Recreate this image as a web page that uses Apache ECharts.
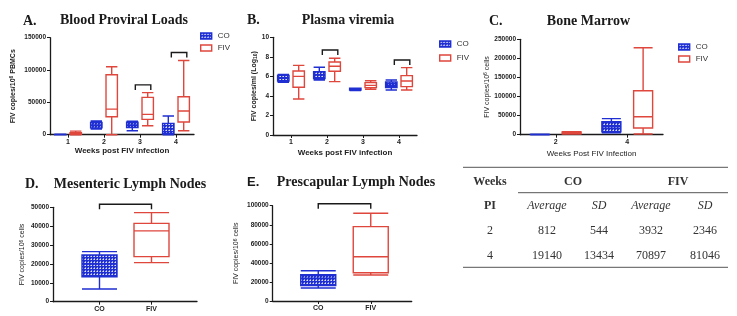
<!DOCTYPE html>
<html lang="en">
<head>
<meta charset="UTF-8">
<title>FIV proviral loads</title>
<script src="https://cdn.jsdelivr.net/npm/echarts@6.0.0/dist/echarts.min.js"></script>
<style>
  *{margin:0;padding:0;}
  body{background:#fff;}
  #main{width:737px;height:316px;}
</style>
</head>
<body>
<div id="main"></div>
<script type="text/javascript">
// box values are [min, Q1, median, Q3, max]
// A. blood proviral loads
var weeksA = ['1', '2', '3', '4'];
var coA = [[0, 0, 200, 500, 800], [8800, 10500, 15000, 19000, 21200], [6200, 11000, 15000, 19200, 21000], [0, 1500, 9000, 17500, 29000]];
var fivA = [[0, 500, 1500, 3000, 5500], [0, 27800, 39600, 92700, 105000], [13900, 23700, 31400, 57700, 65000], [6000, 19600, 36600, 58700, 114800]];
var sigWeeksA = ['3', '4'];
var sigLevelA = [77000, 127000];

// B. plasma viremia (log10)
var weeksB = ['1', '2', '3', '4'];
var coB = [[5.4, 5.53, 5.8, 6.1, 6.2], [5.63, 5.77, 6.14, 6.48, 6.93], [4.55, 4.6, 4.68, 4.78, 4.8], [4.61, 4.85, 5.08, 5.43, 5.63]];
var fivB = [[3.69, 4.88, 6.0, 6.55, 7.13], [5.46, 6.52, 7.03, 7.47, 7.85], [4.68, 4.85, 5.08, 5.36, 5.56], [4.61, 4.95, 5.53, 6.08, 6.9]];
var sigWeeksB = ['2', '4'];
var sigLevelB = [8.7, 7.68];

// C. bone marrow
var weeksC = ['2', '4'];
var coC = [[0, 200, 500, 900, 1500], [5000, 7900, 21000, 34000, 42000]];
var fivC = [[1500, 2500, 4500, 7000, 8000], [1700, 17500, 47000, 115000, 228000]];

// D. mesenteric lymph nodes, E. prescapular lymph nodes
var groupsDE = ['CO', 'FIV'];
var coD = [6700, 13200, 20000, 24700, 26500];
var fivD = [20700, 23900, 37500, 41500, 47200];
var sigLevelD = 51600;
var coE = [13600, 16100, 23800, 27600, 31800];
var fivE = [27300, 29700, 46500, 78000, 92000];
var sigLevelE = 102100;

// table: bone marrow averages / SD
var tableWeeks = ['2', '4'];
var tableCoAvg = [812, 19140];
var tableCoSD = [544, 13434];
var tableFivAvg = [3932, 70897];
var tableFivSD = [2346, 81046];

var BLUE = '#1f2fd2';
var RED = '#e0473c';
var INK = '#1a1a1a';
var SANS = '"Liberation Sans", Arial, sans-serif';
var SERIF = '"Liberation Serif", "DejaVu Serif", serif';

function makePattern() {
    var c = document.createElement('canvas');
    c.width = 3; c.height = 3;
    var g = c.getContext('2d');
    g.fillStyle = BLUE;
    g.fillRect(0, 0, 3, 3);
    g.fillStyle = '#dfe3ff';
    g.fillRect(1, 1, 1, 1);
    g.fillStyle = '#8c96ea';
    g.fillRect(0, 1, 1, 1);
    g.fillRect(1, 0, 1, 1);
    return c;
}
var coFill = {image: makePattern(), repeat: 'repeat'};
var coStyle = {color: coFill, borderColor: BLUE, borderWidth: 1.4};
var fivStyle = {color: '#ffffff', borderColor: RED, borderWidth: 1.4};

function yAxisOf(gi, max, interval, name, nameGap, offset) {
    return {
        type: 'value', gridIndex: gi, min: 0, max: max, interval: interval, offset: offset || 0,
        name: name, nameLocation: 'middle', nameGap: nameGap, nameRotate: 90,
        nameTextStyle: {
            fontSize: 7, fontWeight: 'bold', color: '#222', fontFamily: SANS,
            rich: {
                t: {fontSize: 7, fontWeight: 'bold', color: '#222', fontFamily: SANS},
                sup: {fontSize: 5, fontWeight: 'bold', color: '#222', fontFamily: SANS, verticalAlign: 'top'},
                sub: {fontSize: 5, fontWeight: 'bold', color: '#222', fontFamily: SANS, verticalAlign: 'bottom'}
            }
        },
        axisLine: {show: true, lineStyle: {color: INK, width: 1.3}},
        axisTick: {show: true, length: 3, lineStyle: {color: INK, width: 1}},
        axisLabel: {fontSize: 6.5, fontWeight: 'bold', color: '#222', fontFamily: SANS, margin: 4,
            formatter: function (v) { return String(v); }},
        splitLine: {show: false}
    };
}

function xAxisOf(gi, data, name, nameGap, nameWeight, showLine) {
    return {
        type: 'category', gridIndex: gi, data: data, boundaryGap: true,
        name: name, nameLocation: 'middle', nameGap: nameGap,
        nameTextStyle: {fontSize: 8, fontWeight: nameWeight, color: '#222', fontFamily: SANS},
        axisLine: {show: showLine, lineStyle: {color: INK, width: 1.3}},
        axisTick: {show: true, alignWithLabel: true, length: 3, lineStyle: {color: INK, width: 1}},
        axisLabel: {fontSize: 7, fontWeight: 'bold', color: '#222', fontFamily: SANS, margin: 4},
        splitLine: {show: false}
    };
}

function boxSeries(name, gi, data, style) {
    return {
        type: 'boxplot', name: name, xAxisIndex: gi, yAxisIndex: gi, data: data,
        itemStyle: style, silent: true, emphasis: {disabled: true}
    };
}

// bracket over a category (A, B) or across the two groups (D, E)
function bracketSeries(gi, data, span) {
    return {
        type: 'custom', xAxisIndex: gi, yAxisIndex: gi, data: data, silent: true, z: 5, clip: false,
        renderItem: function (params, api) {
            var lvl = api.value(1);
            var x0, x1, y;
            if (span) {
                var a = api.coord([0, lvl]), b = api.coord([1, lvl]);
                x0 = a[0]; x1 = b[0]; y = a[1];
            } else {
                var p = api.coord([api.value(0), lvl]);
                var band = api.size([1, 0])[0];
                x0 = p[0] - band * 0.13; x1 = p[0] + band * 0.3; y = p[1];
            }
            return {
                type: 'polyline',
                shape: {points: [[x0, y + 5], [x0, y], [x1, y], [x1, y + 5]]},
                style: {stroke: INK, lineWidth: 1.4, fill: null}
            };
        }
    };
}

function legendAt(left, top, gap) {
    return {
        orient: 'vertical', left: left, top: top, itemGap: gap, itemWidth: 11, itemHeight: 6,
        icon: 'rect', selectedMode: false, padding: 0,
        textStyle: {fontSize: 8, color: '#333', fontFamily: SANS, padding: [0, 0, 0, 1]},
        data: [{name: 'CO', itemStyle: coStyle}, {name: 'FIV', itemStyle: fivStyle}]
    };
}

var grids = [
    {left: 50, top: 37.7, width: 144, height: 97},      // A
    {left: 273, top: 37.3, width: 144, height: 97.7},   // B
    {left: 520, top: 39.3, width: 143, height: 95.4},   // C
    {left: 73.5, top: 207.3, width: 104, height: 94.4}, // D
    {left: 292, top: 205.7, width: 105, height: 95.3},  // E
    {left: 53, top: 207.3, width: 144, height: 94.4},   // D axis line
    {left: 272.7, top: 205.7, width: 139, height: 95.3} // E axis line
];
grids.forEach(function (g) { g.outerBoundsMode = 'none'; g.containLabel = false; });

var xAxes = [
    xAxisOf(0, weeksA, 'Weeks post FIV infection', 12.5, 'bold', true),
    xAxisOf(1, weeksB, 'Weeks post FIV infection', 14, 'bold', true),
    xAxisOf(2, weeksC, 'Weeks Post FIV Infection', 15, 'normal', true),
    xAxisOf(3, groupsDE, '', 0, 'bold', false),
    xAxisOf(4, groupsDE, '', 0, 'bold', false),
    {type: 'value', gridIndex: 5, min: 0, max: 1, axisLine: {show: true, lineStyle: {color: INK, width: 1.3}},
        axisTick: {show: false}, axisLabel: {show: false}, splitLine: {show: false}},
    {type: 'value', gridIndex: 6, min: 0, max: 1, axisLine: {show: true, lineStyle: {color: INK, width: 1.3}},
        axisTick: {show: false}, axisLabel: {show: false}, splitLine: {show: false}}
];

var yAxes = [
    yAxisOf(0, 150000, 50000, '{t|FIV copies/10}{sup|6}{t| PBMCs}', 33.5),
    yAxisOf(1, 10, 2, '{t|FIV copies/ml (Log}{sub|10}{t|)}', 13.5),
    yAxisOf(2, 250000, 50000, '{t|FIV copies/10}{sup|6}{t| cells}', 28),
    yAxisOf(3, 50000, 10000, '{t|FIV copies/10}{sup|6}{t| cells}', 27, 20.5),
    yAxisOf(4, 100000, 20000, '{t|FIV copies/10}{sup|6}{t| cells}', 32.7, 19.3),
    {type: 'value', gridIndex: 5, show: false},
    {type: 'value', gridIndex: 6, show: false}
];
[2, 3, 4].forEach(function (i) {
    yAxes[i].nameTextStyle.rich.t.fontWeight = 'normal';
    yAxes[i].nameTextStyle.rich.sup.fontWeight = 'normal';
});

function pairItems(co, fiv) {
    return [{value: co, itemStyle: coStyle}, {value: fiv, itemStyle: fivStyle}];
}

var series = [
    boxSeries('CO', 0, coA, coStyle),
    boxSeries('FIV', 0, fivA, fivStyle),
    bracketSeries(0, sigWeeksA.map(function (w, i) { return [w, sigLevelA[i]]; }), false),
    boxSeries('CO', 1, coB, coStyle),
    boxSeries('FIV', 1, fivB, fivStyle),
    bracketSeries(1, sigWeeksB.map(function (w, i) { return [w, sigLevelB[i]]; }), false),
    boxSeries('CO', 2, coC, coStyle),
    boxSeries('FIV', 2, fivC, fivStyle),
    boxSeries('Mesenteric', 3, pairItems(coD, fivD), fivStyle),
    bracketSeries(3, [[groupsDE[0], sigLevelD]], true),
    boxSeries('Prescapular', 4, pairItems(coE, fivE), fivStyle),
    bracketSeries(4, [[groupsDE[0], sigLevelE]], true)
];
series[6].boxWidth = [19, 19];
series[7].boxWidth = [19, 19];
series[8].boxWidth = [35, 35];
series[10].boxWidth = [35, 35];

// panel titles and the table
var graphic = [];
function txt(x, y, s, font, align, fill) {
    graphic.push({type: 'text', x: x, y: y, silent: true,
        style: {text: s, font: font, fill: fill || '#1a1a1a', align: align || 'left', verticalAlign: 'middle'}});
}
function rule(x1, x2, y) {
    graphic.push({type: 'line', silent: true, shape: {x1: x1, y1: y, x2: x2, y2: y},
        style: {stroke: '#555', lineWidth: 1}});
}
var TITLE = 'bold 14px ' + SERIF;
txt(23, 21, 'A.', TITLE);
txt(124, 20, 'Blood Proviral Loads', TITLE, 'center');
txt(247, 20, 'B.', TITLE);
txt(348, 20, 'Plasma viremia', TITLE, 'center');
txt(489, 21, 'C.', TITLE);
txt(588.5, 21, 'Bone Marrow', TITLE, 'center');
txt(25, 184, 'D.', TITLE);
txt(130, 184, 'Mesenteric Lymph Nodes', TITLE, 'center');
txt(247, 182, 'E.', 'bold 13px ' + SANS);
txt(356, 182, 'Prescapular Lymph Nodes', TITLE, 'center');

var colX = [490, 547, 599, 651, 705];
var TB = 'bold 12px ' + SERIF, TI = 'italic 12px ' + SERIF, TN = '12px ' + SERIF, TC = '#333';
rule(463, 728, 167.3);
rule(518, 728, 192.7);
rule(463, 728, 267.3);
txt(colX[0], 182, 'Weeks', TB, 'center', TC);
txt((colX[1] + colX[2]) / 2, 182, 'CO', TB, 'center', TC);
txt((colX[3] + colX[4]) / 2, 182, 'FIV', TB, 'center', TC);
txt(colX[0], 206, 'PI', TB, 'center', TC);
['Average', 'SD', 'Average', 'SD'].forEach(function (h, i) { txt(colX[i + 1], 206, h, TI, 'center', TC); });
tableWeeks.forEach(function (w, r) {
    var y = 230.7 + r * 25;
    var row = [w, tableCoAvg[r], tableCoSD[r], tableFivAvg[r], tableFivSD[r]];
    row.forEach(function (v, i) { txt(colX[i], y, String(v), TN, 'center', TC); });
});

var myChart = echarts.init(document.getElementById('main'), null, {renderer: 'canvas'});
var option = {
    backgroundColor: '#ffffff',
    animation: false,
    tooltip: {show: false},
    legend: [legendAt(200, 32, 4), legendAt(439, 40, 6), legendAt(678, 43, 4)],
    grid: grids,
    xAxis: xAxes,
    yAxis: yAxes,
    series: series,
    graphic: graphic
};
myChart.setOption(option);
</script>
</body>
</html>
